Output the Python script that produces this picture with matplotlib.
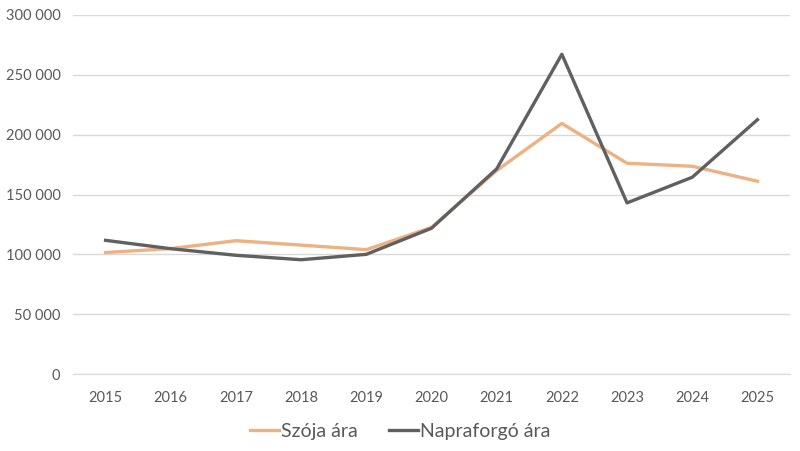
import matplotlib
matplotlib.use("Agg")
import matplotlib.pyplot as plt
from matplotlib.ticker import FuncFormatter, MultipleLocator

years = [2015, 2016, 2017, 2018, 2019, 2020, 2021, 2022, 2023, 2024, 2025]
szoja = [101500, 104800, 111400, 107700, 103900, 122500, 170000, 209400, 176100, 173600, 161100]
napraforgo = [111700, 104700, 99200, 95500, 100000, 121800, 171400, 267200, 143000, 164400, 212500]
series_names = ["Szója ára", "Napraforgó ára"]

plt.rcParams['font.family'] = ['Lato', 'DejaVu Sans']

fig = plt.figure(figsize=(8.0, 4.51), dpi=100)
ax = fig.add_axes([73/800, 1-374/451, (790-73)/800, (374-15)/451])

ax.plot(years, szoja, color='#EEB183', lw=2.4, label=series_names[0], solid_joinstyle='round')
ax.plot(years, napraforgo, color='#606060', lw=2.4, label=series_names[1], solid_joinstyle='round')

ax.set_xlim(2014.5, 2025.5)
ax.set_ylim(0, 300000)
ax.yaxis.set_major_locator(MultipleLocator(50000))
ax.yaxis.set_major_formatter(FuncFormatter(lambda v, p: f"{int(v):,}".replace(",", " ")))
ax.set_xticks(years)
ax.set_xticklabels([str(y) for y in years])
ax.grid(axis='y', color='#D9D9D9', lw=1)
ax.set_axisbelow(True)
for s in ['top', 'right', 'left']:
    ax.spines[s].set_visible(False)
ax.spines['bottom'].set_color('#D9D9D9')
ax.tick_params(axis='both', length=0, colors='#595959', labelsize=10.5)
ax.tick_params(axis='y', pad=9)
ax.tick_params(axis='x', pad=12)

leg = fig.legend(loc='center', bbox_to_anchor=(0.5, 1-431/451), ncol=2, frameon=False,
                 fontsize=14, handlelength=1.5, handletextpad=0.1, columnspacing=1.6,
                 labelcolor='#595959')

fig.savefig("out.png", dpi=100)
